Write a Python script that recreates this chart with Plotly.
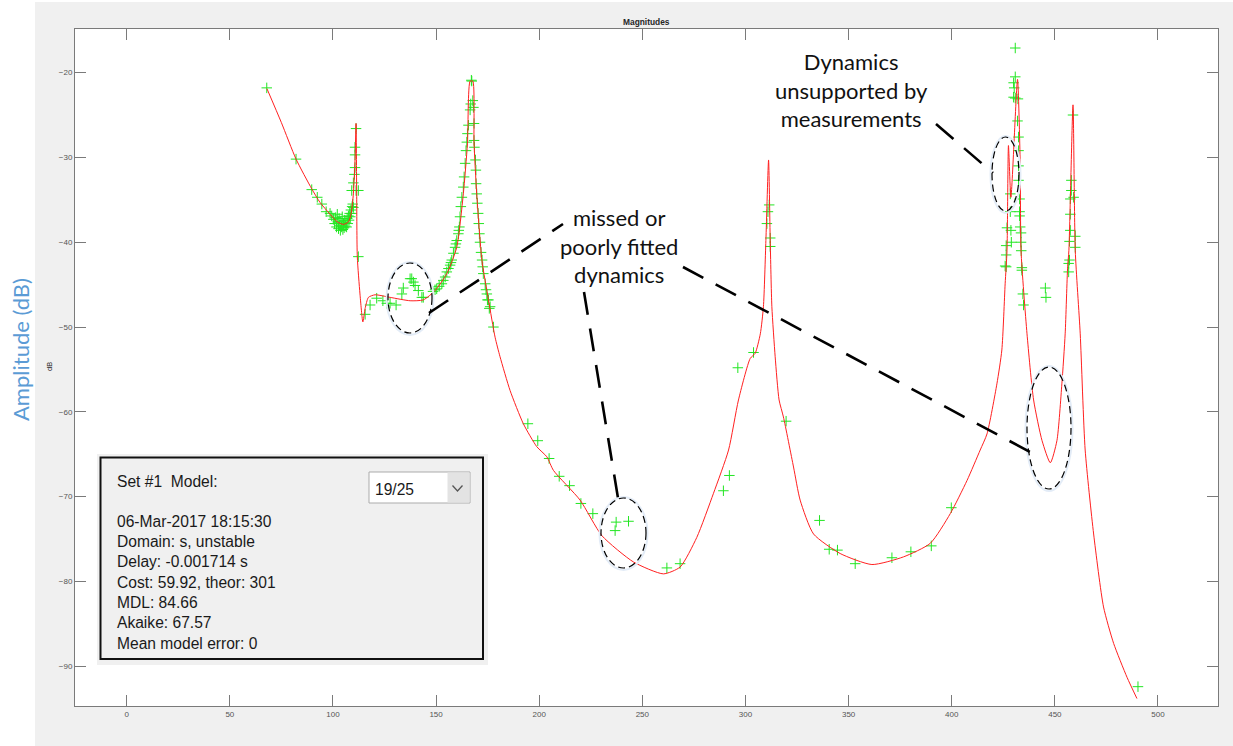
import plotly.graph_objects as go

# ---------------------------------------------------------------------------
# Measured frequency response (frequency, magnitude in dB)
# ---------------------------------------------------------------------------
meas_freq = [
    # low-frequency arm and resonance near 111
    67.9, 82.1, 89.7, 92.4, 94.6, 96.7, 98.6,
    99.4, 100.2, 100.8, 101.3, 101.7, 102.1, 102.4, 102.7, 103.0, 103.3,
    103.6, 103.9, 104.2, 104.5, 104.8, 105.1, 105.4, 105.7, 106.0, 106.3,
    106.6, 106.9, 107.2, 107.5, 107.8, 108.1, 108.4, 108.7, 109.0, 109.3,
    109.6, 109.9,
    111.2, 110.7, 110.7, 110.7, 110.4, 109.9, 111.2, 109.1, 112.3, 112.3,
    # 115 - 150 band
    115.6, 118.0, 121.2, 124.2, 126.1, 127.7, 130.6, 133.4, 134.1, 137.4,
    138.2, 139.0, 139.8, 141.4, 143.1, 143.8, 149.5,
    # rising flank of the 167 resonance
    148.5, 150.3, 151.5, 152.8, 153.5, 154.4, 155.2, 156.0, 156.8, 157.2,
    157.6, 158.4, 159.2, 159.6, 160.0, 160.8, 161.0, 161.3, 161.6, 162.0,
    162.5, 163.2, 163.6, 164.1, 164.5, 164.9, 165.2, 165.7, 166.5, 166.8,
    167.1, 167.3,
    # falling flank of the 167 resonance
    167.8, 168.1, 168.4, 168.4, 168.6, 169.1, 169.3, 169.4, 169.7, 170.0,
    170.4, 170.7, 171.0, 171.3, 171.8, 172.3, 172.6, 172.9, 173.8, 174.2,
    174.6, 174.9, 175.4, 175.8, 176.2, 177.8,
    # mid band and resonance near 311
    194.5, 199.3, 204.8, 209.7, 214.7, 220.2, 226.0, 236.8, 237.3, 243.3,
    261.9, 268.3, 289.3, 292.2, 296.3, 303.9, 310.4, 310.9, 311.5, 312.0,
    312.0, 319.7,
    # 330 - 400 band
    335.9, 340.6, 344.6, 353.2, 371.0, 380.2, 390.1, 399.8,
    # resonances near 427 - 434
    430.8, 430.8, 430.0, 430.3, 430.0, 430.8, 432.1, 431.9, 432.4, 432.4,
    432.4, 432.4, 432.9, 428.4, 428.4, 432.9, 432.9, 426.8, 428.7, 433.2,
    433.6, 428.9, 433.6, 426.4, 433.7, 426.4, 425.9, 426.4, 434.0, 434.0,
    434.5, 434.8, 445.4, 445.7,
    # resonance near 459 and high-frequency tail
    458.8, 458.0, 458.0, 459.1, 457.5, 457.5, 457.5, 459.9, 457.1, 459.9,
    457.1, 456.7, 456.7, 490.3,
]
meas_db = [
    -21.8, -30.2, -33.8, -34.7, -35.5, -36.4, -36.6,
    -36.9, -37.3, -37.8, -37.1, -38.2, -36.7, -37.6, -38.4, -37.2, -38.0,
    -38.6, -37.5, -38.2, -37.0, -38.5, -37.8, -38.3, -37.4, -38.1, -37.7,
    -38.2, -37.2, -37.8, -36.9, -37.4, -36.6, -37.0, -36.2, -36.6, -35.8,
    -35.5, -35.9,
    -26.6, -28.8, -29.7, -31.2, -32.0, -33.0, -33.9, -33.9, -33.9, -41.7,
    -48.5, -47.4, -46.6, -46.9, -47.2, -47.2, -47.4, -46.1, -45.4, -44.3,
    -44.3, -44.7, -45.1, -45.7, -46.5, -46.5, -45.6,
    -45.8, -45.5, -45.2, -44.9, -44.5, -44.1, -43.5, -43.1, -42.7, -42.4,
    -42.1, -41.3, -40.6, -40.2, -39.8, -39.0, -38.6, -38.2, -37.0, -35.8,
    -34.7, -33.5, -32.3, -30.7, -29.2, -28.2, -27.2, -26.2, -24.4, -23.7,
    -20.9, -21.0,
    -23.3, -24.1, -26.0, -28.0, -28.8, -30.3, -31.5, -33.1, -34.3, -35.4,
    -36.6, -37.8, -39.0, -40.0, -41.2, -42.1, -42.9, -43.7, -44.9, -45.6,
    -46.1, -46.8, -46.8, -47.8, -47.6, -50.0,
    -61.4, -63.4, -65.5, -67.6, -68.7, -70.8, -72.0, -74.0, -73.0, -72.9,
    -78.4, -77.9, -69.3, -67.5, -54.8, -53.0, -37.8, -36.4, -35.6, -39.5,
    -40.5, -61.1,
    -72.8, -76.2, -76.3, -77.9, -77.2, -76.5, -75.8, -71.3,
    -17.1, -20.5, -21.2, -21.8, -22.9, -23.0, -23.1, -25.7, -27.6, -29.2,
    -31.0, -32.7, -34.9, -34.3, -36.4, -36.4, -36.9, -38.3, -38.6, -38.2,
    -38.9, -40.0, -40.0, -40.4, -41.0, -41.5, -42.8, -42.9, -43.0, -43.3,
    -46.1, -47.4, -45.4, -46.5,
    -25.0, -32.7, -33.9, -34.7, -34.9, -36.7, -38.6, -39.3, -39.9, -40.6,
    -42.1, -42.5, -43.5, -92.4,
]

# ---------------------------------------------------------------------------
# Fitted model response
# ---------------------------------------------------------------------------
model_freq = [
    68.0, 75.0, 82.1, 89.7, 93.7, 98.6, 102.1, 105.0, 107.5, 108.8,
    109.9, 110.7, 111.2, 111.5, 111.8, 113.1, 114.5, 115.6, 117.2, 120.4,
    127.7, 137.4, 143.8, 149.5, 155.2, 160.0, 163.2, 165.2, 166.5, 167.8,
    168.4, 169.7, 172.2, 175.4, 178.6, 181.0, 185.9, 192.3, 198.8, 203.7,
    206.9, 219.8, 230.4, 245.7, 260.2, 268.3, 276.4, 284.5, 291.8, 296.6,
    302.3, 304.7, 307.2, 308.7, 309.9, 311.2, 312.0, 312.8, 314.4, 316.3,
    318.4, 323.3, 326.5, 333.0, 345.9, 361.3, 376.6, 389.6, 399.3, 407.4,
    413.8, 417.1, 421.9, 424.3, 425.9, 426.8, 427.5, 428.7, 431.9, 433.2,
    433.6, 436.5, 439.7, 443.8, 447.8, 451.0, 453.4, 455.0, 456.2, 456.8,
    458.8, 459.9, 462.3, 464.7, 468.8, 473.6, 478.5, 485.0, 489.8,
]
model_db = [
    -21.9, -25.9, -30.2, -33.7, -35.3, -36.7, -37.6, -37.9, -37.6, -36.6,
    -34.3, -30.3, -26.0, -34.3, -41.7, -46.1, -49.4, -47.8, -46.5, -46.2,
    -46.5, -46.9, -46.8, -45.7, -43.7, -40.6, -34.3, -28.4, -21.0, -21.0,
    -28.3, -34.3, -42.1, -46.8, -51.2, -53.5, -57.5, -61.4, -64.1, -65.3,
    -66.9, -70.4, -74.6, -77.7, -79.1, -78.3, -74.8, -69.6, -64.5, -58.6,
    -53.7, -53.1, -50.8, -47.6, -39.8, -30.3, -39.8, -47.6, -53.5, -58.6,
    -60.6, -66.5, -70.4, -74.4, -76.7, -78.0, -77.1, -75.5, -72.0, -68.1,
    -64.5, -62.6, -56.7, -52.7, -44.9, -41.0, -28.6, -34.7, -20.8, -30.7,
    -41.0, -50.8, -58.6, -63.4, -66.0, -63.4, -56.7, -50.8, -42.9, -41.0,
    -23.8, -41.0, -50.8, -64.5, -74.4, -83.0, -87.3, -91.3, -93.8,
]
assert len(meas_freq) == len(meas_db)
assert len(model_freq) == len(model_db)

x_ticks = list(range(0, 501, 50))
y_ticks = list(range(-90, -19, 10))

info_header = "Set #1\u00a0\u00a0Model:"
model_choice = "19/25"
info_lines = [
    "06-Mar-2017 18:15:30",
    "Domain: s, unstable",
    "Delay: -0.001714 s",
    "Cost: 59.92, theor: 301",
    "MDL: 84.66",
    "Akaike: 67.57",
    "Mean model error: 0",
]

# ---------------------------------------------------------------------------
# Figure geometry
# ---------------------------------------------------------------------------
W, H = 1233, 746
ML, MR, MT, MB = 75, 15, 29, 40
PW, PH = W - ML - MR, H - MT - MB
X_RANGE = [-25.07, 529.1]
Y_RANGE = [-94.68, -14.86]


def px(xp):
    """Horizontal page pixel -> paper coordinate."""
    return (xp - ML) / PW


def py(yp):
    """Vertical page pixel (from top) -> paper coordinate."""
    return (H - MB - yp) / PH


def dx(xp):
    """Horizontal page pixel -> data x."""
    return X_RANGE[0] + (xp - ML) / PW * (X_RANGE[1] - X_RANGE[0])


def dy(yp):
    """Vertical page pixel -> data y."""
    return Y_RANGE[1] - (yp - MT) / PH * (Y_RANGE[1] - Y_RANGE[0])


fig = go.Figure()

fig.add_trace(go.Scatter(
    x=meas_freq, y=meas_db, mode="markers",
    marker=dict(symbol="cross-thin", size=7.5, color="#22e622",
                line=dict(color="#22e622", width=1)),
    hoverinfo="skip", showlegend=False,
))
fig.add_trace(go.Scatter(
    x=model_freq, y=model_db, mode="lines",
    line=dict(color="#ff2020", width=1, shape="spline", smoothing=0.6),
    hoverinfo="skip", showlegend=False,
))

shapes = []
annotations = []

# white strips outside the figure window
shapes.append(dict(type="rect", xref="paper", yref="paper",
                   x0=px(0), x1=px(35), y0=py(H), y1=py(0),
                   fillcolor="white", line=dict(width=0), layer="below"))
shapes.append(dict(type="rect", xref="paper", yref="paper",
                   x0=px(0), x1=px(W), y0=py(2), y1=py(0),
                   fillcolor="white", line=dict(width=0), layer="below"))

# dashed ellipses around the regions of interest (data coordinates)
ellipses = [
    (388, 432, 263, 333),
    (601, 646, 498, 568),
    (1027, 1071, 367, 489),
    (992, 1019, 137, 211),
]
for (xa, xb, ya, yb) in ellipses:
    shapes.append(dict(type="circle", xref="x", yref="y",
                       x0=dx(xa - 1.5), x1=dx(xb + 1.5),
                       y0=dy(yb + 2), y1=dy(ya - 1),
                       line=dict(color="#e3ecf7", width=2), layer="above"))
    shapes.append(dict(type="circle", xref="x", yref="y",
                       x0=dx(xa), x1=dx(xb), y0=dy(yb), y1=dy(ya),
                       line=dict(color="black", width=1.2, dash="7px,4px"),
                       layer="above"))

# leader lines from the callouts
leaders = [
    (429, 313, 563, 224),
    (584, 292, 618, 498),
    (683, 267, 1032, 453),
    (936, 124, 993, 173),
]
for (xa, ya, xb, yb) in leaders:
    shapes.append(dict(type="line", xref="x", yref="y",
                       x0=dx(xa), y0=dy(ya), x1=dx(xb), y1=dy(yb),
                       line=dict(color="black", width=2.6, dash="23px,14px"),
                       layer="above"))

callout_font = dict(family="Lato, Open Sans, sans-serif", size=22, color="#111")
annotations.append(dict(
    text="missed or<br>poorly fitted<br>dynamics", xref="x", yref="y",
    x=dx(619), y=dy(246), xanchor="center", yanchor="middle",
    showarrow=False, font=callout_font, align="center"))
annotations.append(dict(
    text="Dynamics<br>unsupported by<br>measurements", xref="x", yref="y",
    x=dx(851), y=dy(90), xanchor="center", yanchor="middle",
    showarrow=False, font=callout_font, align="center"))

# model information panel
shapes.append(dict(type="rect", xref="paper", yref="paper",
                   x0=px(97), x1=px(488), y0=py(665), y1=py(454),
                   fillcolor="#f0f0f0", line=dict(width=0), layer="above"))
shapes.append(dict(type="rect", xref="paper", yref="paper",
                   x0=px(100.5), x1=px(483), y0=py(659), y1=py(457.5),
                   fillcolor="rgba(0,0,0,0)", line=dict(color="#111", width=2),
                   layer="above"))
shapes.append(dict(type="rect", xref="paper", yref="paper",
                   x0=px(369), x1=px(470), y0=py(503), y1=py(472),
                   fillcolor="white", line=dict(color="#ababab", width=1),
                   layer="above"))
shapes.append(dict(type="rect", xref="paper", yref="paper",
                   x0=px(447.5), x1=px(469.5), y0=py(502.5), y1=py(472.5),
                   fillcolor="#e3e3e3", line=dict(width=0), layer="above"))
shapes.append(dict(type="path", xref="paper", yref="paper",
                   path="M {:.5f},{:.5f} L {:.5f},{:.5f} L {:.5f},{:.5f}".format(
                       px(452.5), py(485.5), px(457.5), py(491), px(462.5), py(485.5)),
                   line=dict(color="#555", width=1.3), layer="above"))

panel_font = dict(family="Liberation Sans, Arial, sans-serif", size=15.6, color="#1a1a1a")
annotations.append(dict(text=info_header, xref="paper", yref="paper",
                        x=px(115), y=py(482), xanchor="left", yanchor="middle",
                        showarrow=False, font=panel_font))
annotations.append(dict(text=model_choice, xref="paper", yref="paper",
                        x=px(373), y=py(489), xanchor="left", yanchor="middle",
                        showarrow=False, font=panel_font))
for i, line in enumerate(info_lines):
    annotations.append(dict(text=line, xref="paper", yref="paper",
                            x=px(115), y=py(521 + i * 20.35),
                            xanchor="left", yanchor="middle",
                            showarrow=False, font=panel_font))

# axes title, unit label and outer axis label
annotations.append(dict(text="<b>Magnitudes</b>", xref="paper", yref="paper",
                        x=px(646.5), y=py(22), xanchor="center", yanchor="middle",
                        showarrow=False,
                        font=dict(family="Liberation Sans, Arial", size=8.4, color="#262626")))
annotations.append(dict(text="dB", xref="paper", yref="paper",
                        x=px(50), y=py(367), xanchor="center", yanchor="middle",
                        textangle=-90, showarrow=False,
                        font=dict(family="Liberation Sans, Arial", size=7.5, color="#262626")))
annotations.append(dict(text="Amplitude (dB)", xref="paper", yref="paper",
                        x=px(20), y=py(350), xanchor="center", yanchor="middle",
                        textangle=-90, showarrow=False,
                        font=dict(family="Lato, Open Sans, sans-serif", size=22,
                                  color="#5b9bd5")))

axis_common = dict(
    showline=True, linecolor="#7a7a7a", linewidth=1, mirror="ticks",
    ticks="inside", ticklen=11, tickwidth=1, tickcolor="#7a7a7a",
    showgrid=False, zeroline=False,
    tickfont=dict(family="Liberation Sans, Arial", size=8, color="#555"),
)

fig.update_layout(
    width=W, height=H,
    margin=dict(l=ML, r=MR, t=MT, b=MB, pad=0),
    paper_bgcolor="#f0f0f0", plot_bgcolor="white",
    xaxis=dict(range=X_RANGE, tickvals=x_ticks, **axis_common),
    yaxis=dict(range=Y_RANGE, tickvals=y_ticks, **axis_common),
    shapes=shapes, annotations=annotations,
    showlegend=False,
)

fig.write_html("out.html")
